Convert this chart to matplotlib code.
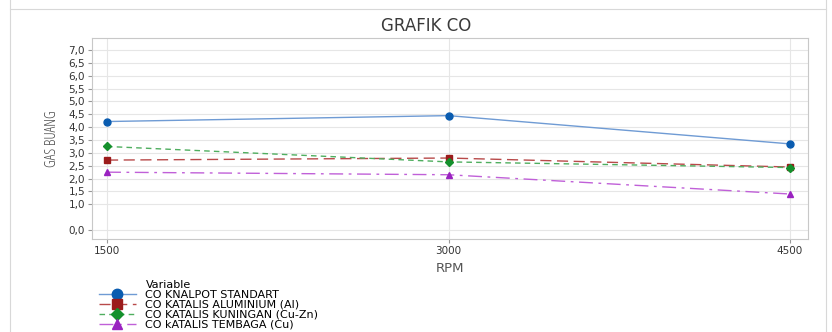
import matplotlib.pyplot as plt
from matplotlib.lines import Line2D

plt.rcParams['font.family'] = ['DejaVu Sans']

rpm = [1500, 3000, 4500]
knalpot_standart = [4.22, 4.45, 3.35]
katalis_aluminium = [2.72, 2.80, 2.45]
katalis_kuningan = [3.25, 2.65, 2.43]
katalis_tembaga = [2.25, 2.15, 1.40]

labels = ["CO KNALPOT STANDART", "CO KATALIS ALUMINIUM (Al)",
          "CO KATALIS KUNINGAN (Cu-Zn)", "CO kATALIS TEMBAGA (Cu)"]
yticks = [0.0, 1.0, 1.5, 2.0, 2.5, 3.0, 3.5, 4.0, 4.5, 5.0, 5.5, 6.0, 6.5, 7.0]

fig = plt.figure(figsize=(8.32, 3.32), dpi=100)
ax = fig.add_axes([92 / 832, 1 - 239 / 332, (808 - 92) / 832, (239 - 38) / 332])

ax.plot(rpm, knalpot_standart, color="#6f9bd4", lw=1.0, ls="-",
        marker="o", ms=5, mfc="#0a5cb0", mec="#0a5cb0", label=labels[0])
ax.plot(rpm, katalis_aluminium, color="#b84a4a", lw=1.0, ls=(0, (8, 4)),
        marker="s", ms=5, mfc="#9b1b1b", mec="#9b1b1b", label=labels[1])
ax.plot(rpm, katalis_kuningan, color="#4fae5f", lw=1.0, ls=(0, (4, 3)),
        marker="D", ms=4, mfc="#14902c", mec="#14902c", label=labels[2])
ax.plot(rpm, katalis_tembaga, color="#c060d8", lw=1.0, ls=(0, (10, 4, 2, 4)),
        marker="^", ms=5, mfc="#9a22c0", mec="#9a22c0", label=labels[3])

ax.set_xlim(1434, 4579)
ax.set_ylim(-0.35, 7.47)
ax.set_xticks(rpm)
ax.set_xticklabels([str(r) for r in rpm], fontsize=7.5, color="#333333")
ax.set_yticks(yticks)
ax.set_yticklabels([f"{v:.1f}".replace(".", ",") for v in yticks],
                   fontsize=7.5, color="#333333")
ax.grid(True, color="#e6e6e6", lw=0.8)
ax.set_axisbelow(True)
for s in ax.spines.values():
    s.set_color("#c8c8c8")
ax.tick_params(axis="both", length=3, color="#999999", pad=2)

fig.text(426 / 832, 1 - 26 / 332, "GRAFIK CO", fontsize=12, color="#3a3a3a",
         ha="center", va="center")
ax.set_xlabel("RPM", fontsize=9.5, color="#555555", labelpad=4)
ax.set_ylabel("GAS BUANG", fontsize=10.5, color="#444444", labelpad=6,
              family="Open Sans", fontstretch="condensed")

# frame lines of the original figure
fig.add_artist(Line2D([10 / 832, 10 / 832], [0, 1], color="#d8d8d8", lw=0.8))
fig.add_artist(Line2D([826 / 832, 826 / 832], [0, 1], color="#d8d8d8", lw=0.8))
fig.add_artist(Line2D([10 / 832, 826 / 832], [1 - 9 / 332, 1 - 9 / 332],
                      color="#d8d8d8", lw=0.8))

leg = fig.legend(loc="upper left", bbox_to_anchor=(93 / 832, 1 - 274 / 332),
                 title="Variable", frameon=False, fontsize=8,
                 title_fontsize=8, handlelength=3.4, labelspacing=0.0,
                 borderpad=0, handletextpad=0.8, markerscale=1.5)
leg._legend_box.align = "left"
leg.get_title().set_position((47, 0))

fig.savefig("out.png", dpi=100)
